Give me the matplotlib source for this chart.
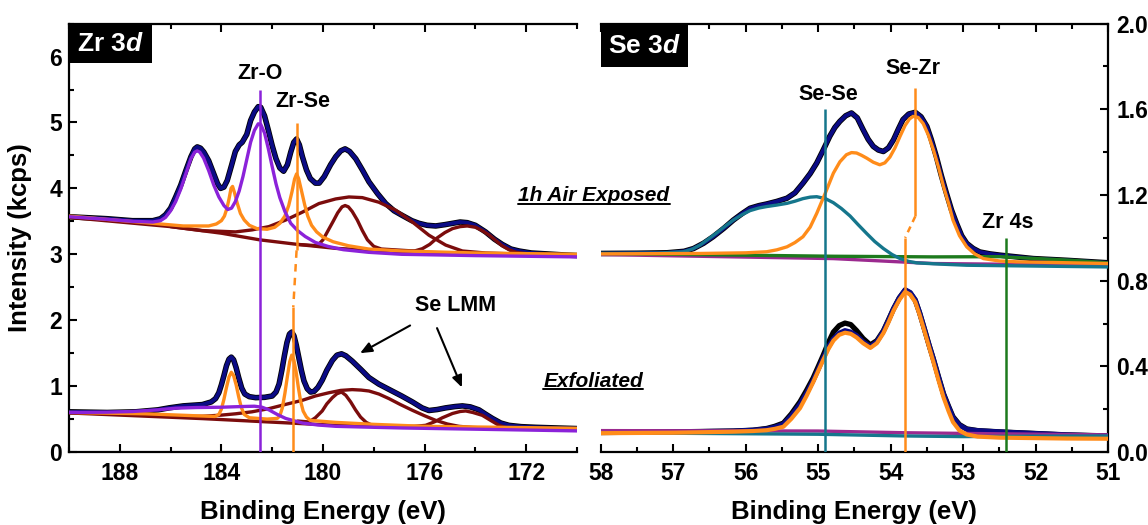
import matplotlib
matplotlib.use('Agg')
import matplotlib.pyplot as plt
from matplotlib.lines import Line2D
from matplotlib.patches import Rectangle
from matplotlib.ticker import MultipleLocator, FormatStrFormatter

plt.rcParams['font.family'] = ['Liberation Sans', 'DejaVu Sans']
plt.rcParams['font.weight'] = 'bold'
plt.rcParams['mathtext.fontset'] = 'custom'
plt.rcParams['mathtext.rm'] = 'Liberation Sans:bold'
plt.rcParams['mathtext.it'] = 'Liberation Sans:bold:italic'
plt.rcParams['mathtext.bf'] = 'Liberation Sans:bold'
plt.rcParams['lines.solid_joinstyle'] = 'round'
plt.rcParams['lines.solid_capstyle'] = 'round'

# ---------------- Zr 3d, 1h air exposed (left panel, upper trace) ----------------
zr_air_E = [190.00, 188.5, 187.5, 186.7, 186.4, 186.2, 186.0, 185.8, 185.6, 185.4,
            185.2, 185.05, 184.95, 184.82, 184.69, 184.5, 184.3, 184.15, 184.03, 183.9,
            183.77, 183.6, 183.45, 183.3, 183.18, 183.0, 182.85, 182.7, 182.55, 182.45,
            182.3, 182.15, 182.0, 181.85, 181.7, 181.55, 181.4, 181.27, 181.15, 181.04,
            180.93, 180.81, 180.65, 180.5, 180.3, 180.15, 179.95, 179.7, 179.5, 179.3,
            179.13, 178.95, 178.71, 178.45, 178.19, 177.85, 177.53, 177.2, 176.88, 176.5,
            176.22, 175.9, 175.56, 175.2, 174.9, 174.6, 174.32, 174.0, 173.6, 173.25,
            172.94, 172.6, 172.28, 171.8, 171.36, 170.5, 169.92]
zr_air_fit = [3.57, 3.54, 3.51, 3.51, 3.54, 3.60, 3.70, 3.87, 4.05, 4.27,
              4.48, 4.60, 4.63, 4.61, 4.55, 4.42, 4.22, 4.07, 4.00, 4.02,
              4.12, 4.35, 4.56, 4.66, 4.70, 4.82, 5.03, 5.16, 5.24, 5.23,
              5.10, 4.88, 4.65, 4.45, 4.31, 4.26, 4.36, 4.55, 4.70, 4.75,
              4.66, 4.48, 4.28, 4.15, 4.08, 4.08, 4.18, 4.36, 4.48, 4.57,
              4.60, 4.56, 4.45, 4.28, 4.10, 3.92, 3.77, 3.66, 3.59, 3.51,
              3.47, 3.44, 3.43, 3.45, 3.47, 3.49, 3.48, 3.44, 3.34, 3.23,
              3.15, 3.08, 3.05, 3.02, 3.01, 2.99, 2.98]

zr_air_zro_E = [190.00, 188.5, 187.5, 186.7, 186.4, 186.2, 186.0, 185.8, 185.6, 185.4,
                185.2, 185.05, 184.95, 184.85, 184.7, 184.5, 184.3, 184.1, 183.9, 183.75,
                183.6, 183.45, 183.3, 183.15, 183.0, 182.85, 182.7, 182.55, 182.45, 182.3,
                182.15, 182.0, 181.85, 181.7, 181.5, 181.27, 181.0, 180.7, 180.3, 179.8,
                179.2, 178.2, 176.9, 174.0, 169.92]
zr_air_zro = [3.57, 3.53, 3.50, 3.49, 3.51, 3.56, 3.66, 3.80, 3.99, 4.22,
              4.45, 4.55, 4.57, 4.55, 4.46, 4.27, 4.05, 3.87, 3.74, 3.68,
              3.70, 3.80, 3.96, 4.18, 4.44, 4.70, 4.88, 4.98, 4.97, 4.84,
              4.60, 4.33, 4.07, 3.86, 3.65, 3.47, 3.36, 3.27, 3.18, 3.12,
              3.07, 3.03, 3.00, 2.98, 2.96]

zr_air_zrse_E = [190.0, 188.5, 187.0, 185.5, 184.5, 184.2, 184.0, 183.88, 183.78, 183.7,
                 183.62, 183.56, 183.48, 183.38, 183.25, 183.1, 182.9, 182.6, 182.2, 181.9,
                 181.7, 181.5, 181.35, 181.22, 181.12, 181.04, 180.96, 180.85, 180.72, 180.6,
                 180.45, 180.25, 180.0, 179.6, 179.0, 178.2, 176.9, 174.0, 169.92]
zr_air_zrse = [3.58, 3.53, 3.48, 3.43, 3.43, 3.46, 3.51, 3.58, 3.70, 3.84,
               4.00, 4.03, 3.93, 3.78, 3.62, 3.52, 3.44, 3.39, 3.38, 3.41,
               3.47, 3.58, 3.74, 3.95, 4.14, 4.22, 4.15, 3.97, 3.75, 3.58,
               3.44, 3.34, 3.26, 3.19, 3.13, 3.08, 3.05, 3.02, 3.00]

zr_air_bg_E = [190.0, 188.0, 186.0, 184.0, 182.5, 181.0, 179.5, 177.0, 174.0, 170.0]
zr_air_bg = [3.56, 3.49, 3.42, 3.32, 3.22, 3.15, 3.09, 3.04, 3.01, 2.99]

zr_air_lmm_broad_E = [186.0, 184.75, 183.44, 182.8, 182.13, 181.47, 180.81, 180.16, 179.50, 178.98,
                      178.45, 177.80, 177.14, 176.48, 175.83, 175.17, 174.51, 173.60, 172.0, 170.0]
zr_air_lmm_broad = [3.42, 3.36, 3.34, 3.37, 3.42, 3.52, 3.64, 3.77, 3.84, 3.87,
                    3.86, 3.79, 3.67, 3.49, 3.29, 3.14, 3.05, 3.02, 3.00, 2.99]

zr_air_lmm1_E = [181.0, 180.22, 180.0, 179.8, 179.6, 179.42, 179.25, 179.13, 179.0, 178.85,
                 178.65, 178.45, 178.25, 178.0, 177.7, 176.0]
zr_air_lmm1 = [3.15, 3.13, 3.22, 3.36, 3.50, 3.63, 3.72, 3.74, 3.72, 3.65,
               3.52, 3.36, 3.22, 3.12, 3.08, 3.04]

zr_air_lmm2_E = [177.0, 176.4, 176.09, 175.8, 175.5, 175.2, 174.9, 174.6, 174.32, 174.0,
                 173.73, 173.45, 173.2, 172.95, 172.68, 172.4, 172.0, 170.0]
zr_air_lmm2 = [3.04, 3.05, 3.085, 3.15, 3.25, 3.33, 3.39, 3.42, 3.43, 3.41,
               3.36, 3.29, 3.21, 3.13, 3.07, 3.03, 3.01, 2.99]

# ---------------- Zr 3d, exfoliated (left panel, lower trace) ----------------
zr_exf_E = [190.00, 188.5, 187.38, 186.5, 186.06, 185.5, 184.75, 184.4, 184.23, 184.1,
            184.0, 183.9, 183.8, 183.7, 183.61, 183.52, 183.42, 183.32, 183.2, 183.08,
            182.9, 182.65, 182.3, 182.0, 181.85, 181.73, 181.62, 181.52, 181.42, 181.32,
            181.23, 181.14, 181.05, 180.95, 180.85, 180.75, 180.62, 180.49, 180.35, 180.2,
            180.03, 179.85, 179.63, 179.45, 179.27, 179.1, 178.85, 178.5, 178.19, 177.8,
            177.4, 176.9, 176.48, 176.1, 175.83, 175.5, 175.17, 174.8, 174.51, 174.2,
            173.86, 173.6, 173.33, 173.0, 172.68, 172.2, 171.63, 170.8, 169.92]
zr_exf_fit = [0.61, 0.60, 0.61, 0.64, 0.67, 0.70, 0.72, 0.76, 0.81, 0.90,
              1.02, 1.16, 1.31, 1.41, 1.44, 1.40, 1.28, 1.13, 0.97, 0.88,
              0.84, 0.825, 0.83, 0.85, 0.91, 1.03, 1.24, 1.46, 1.66, 1.79,
              1.82, 1.76, 1.62, 1.43, 1.24, 1.08, 0.96, 0.91, 0.92, 0.98,
              1.09, 1.24, 1.39, 1.47, 1.49, 1.46, 1.38, 1.25, 1.13, 1.03,
              0.95, 0.85, 0.76, 0.67, 0.63, 0.645, 0.67, 0.69, 0.70, 0.685,
              0.64, 0.575, 0.51, 0.44, 0.405, 0.385, 0.375, 0.365, 0.355]

zr_exf_zrse_E = [190.0, 187.0, 185.0, 184.25, 184.1, 184.0, 183.9, 183.8, 183.7, 183.61,
                 183.52, 183.42, 183.32, 183.22, 183.1, 182.9, 182.2, 181.8, 181.7, 181.6,
                 181.5, 181.4, 181.31, 181.23, 181.15, 181.06, 180.97, 180.88, 180.78, 180.65,
                 180.5, 179.5, 178.0, 176.0, 172.0, 169.92]
zr_exf_zrse = [0.60, 0.58, 0.55, 0.54, 0.57, 0.65, 0.80, 0.98, 1.14, 1.21,
               1.16, 1.02, 0.84, 0.68, 0.57, 0.52, 0.50, 0.51, 0.55, 0.67,
               0.89, 1.15, 1.37, 1.47, 1.40, 1.22, 0.98, 0.77, 0.62, 0.53,
               0.48, 0.45, 0.42, 0.39, 0.37, 0.36]

zr_exf_zro_E = [190.0, 188.5, 187.5, 186.5, 185.8, 185.0, 184.0, 183.2, 182.7, 182.4,
                182.13, 181.8, 181.47, 181.1, 180.81, 180.2, 179.5, 178.0, 176.88, 173.0, 169.92]
zr_exf_zro = [0.60, 0.605, 0.615, 0.64, 0.665, 0.675, 0.68, 0.69, 0.695, 0.68,
              0.64, 0.57, 0.51, 0.47, 0.44, 0.41, 0.39, 0.375, 0.365, 0.34, 0.32]

zr_exf_bg_E = [190.0, 184.75, 182.13, 179.50, 176.88, 169.92]
zr_exf_bg = [0.593, 0.507, 0.456, 0.405, 0.38, 0.34]

zr_exf_lmm_broad_E = [186.0, 185.3, 184.75, 184.0, 183.44, 182.8, 182.13, 181.5, 180.81, 180.3,
                      179.76, 179.3, 178.85, 178.5, 178.19, 177.8, 177.40, 176.95, 176.48, 176.0,
                      175.56, 175.1, 174.65, 174.1, 173.60, 172.0, 169.92]
zr_exf_lmm_broad = [0.55, 0.54, 0.542, 0.56, 0.58, 0.61, 0.658, 0.72, 0.785, 0.85,
                    0.90, 0.935, 0.947, 0.94, 0.926, 0.88, 0.81, 0.72, 0.633, 0.55,
                    0.48, 0.425, 0.39, 0.372, 0.365, 0.35, 0.34]

zr_exf_lmm1_E = [181.0, 180.55, 180.3, 180.03, 179.85, 179.63, 179.45, 179.27, 179.1, 178.91,
                 178.72, 178.52, 178.3, 178.12, 177.5]
zr_exf_lmm1 = [0.47, 0.456, 0.52, 0.623, 0.73, 0.825, 0.885, 0.91, 0.86, 0.76,
               0.64, 0.53, 0.45, 0.415, 0.395]

zr_exf_lmm2_E = [177.0, 176.4, 175.96, 175.6, 175.30, 174.9, 174.6, 174.38, 174.1, 173.73,
                 173.4, 173.07, 172.75, 172.55, 171.5]
zr_exf_lmm2 = [0.385, 0.39, 0.405, 0.46, 0.52, 0.585, 0.615, 0.623, 0.60, 0.557,
               0.48, 0.405, 0.365, 0.355, 0.35]

# ---------------- Se 3d, 1h air exposed (right panel, upper trace) ----------------
se_air_E = [58.01, 57.5, 57.09, 56.85, 56.72, 56.58, 56.45, 56.3, 56.17, 56.05,
            55.94, 55.82, 55.71, 55.57, 55.43, 55.32, 55.21, 55.11, 55.02, 54.93,
            54.84, 54.77, 54.70, 54.62, 54.54, 54.46, 54.38, 54.31, 54.24, 54.17,
            54.10, 54.03, 53.96, 53.89, 53.83, 53.75, 53.66, 53.58, 53.50, 53.44,
            53.37, 53.30, 53.23, 53.16, 53.09, 53.02, 52.95, 52.86, 52.77, 52.63,
            52.49, 52.03, 51.57, 50.98]
se_air_fit = [0.927, 0.928, 0.930, 0.937, 0.950, 0.975, 1.005, 1.045, 1.083, 1.113,
              1.138, 1.150, 1.158, 1.170, 1.185, 1.21, 1.255, 1.30, 1.349, 1.41,
              1.474, 1.515, 1.544, 1.57, 1.583, 1.56, 1.505, 1.46, 1.427, 1.41,
              1.403, 1.42, 1.458, 1.51, 1.552, 1.578, 1.586, 1.565, 1.520, 1.46,
              1.380, 1.29, 1.208, 1.13, 1.067, 1.01, 0.974, 0.95, 0.934, 0.925,
              0.919, 0.903, 0.895, 0.883]

se_air_sezr_E = [58.01, 56.63, 56.0, 55.71, 55.57, 55.43, 55.32, 55.21, 55.11, 55.02,
                 54.9, 54.79, 54.70, 54.61, 54.54, 54.47, 54.40, 54.33, 54.24, 54.15,
                 54.08, 54.01, 53.94, 53.87, 53.80, 53.74, 53.69, 53.62, 53.55, 53.48,
                 53.41, 53.34, 53.27, 53.20, 53.14, 53.05, 52.95, 52.84, 52.72, 52.5,
                 52.26, 50.98]
se_air_sezr = [0.925, 0.927, 0.930, 0.935, 0.944, 0.958, 0.978, 1.005, 1.05, 1.114,
               1.21, 1.302, 1.355, 1.388, 1.398, 1.396, 1.385, 1.372, 1.353, 1.341,
               1.35, 1.377, 1.42, 1.474, 1.525, 1.555, 1.567, 1.562, 1.533, 1.48,
               1.411, 1.33, 1.239, 1.16, 1.083, 1.01, 0.958, 0.925, 0.903, 0.892,
               0.888, 0.880]

se_air_sese_E = [58.01, 57.2, 56.86, 56.74, 56.63, 56.52, 56.40, 56.28, 56.17, 56.05,
                 55.94, 55.82, 55.71, 55.57, 55.43, 55.32, 55.21, 55.11, 55.02, 54.9,
                 54.79, 54.68, 54.56, 54.45, 54.33, 54.22, 54.10, 53.98, 53.87, 53.75,
                 53.64, 53.3, 52.95, 50.98]
se_air_sese = [0.927, 0.929, 0.935, 0.947, 0.966, 0.993, 1.023, 1.055, 1.083, 1.108,
               1.127, 1.139, 1.146, 1.153, 1.161, 1.171, 1.183, 1.19, 1.192, 1.183,
               1.164, 1.137, 1.102, 1.062, 1.020, 0.983, 0.950, 0.922, 0.903, 0.89,
               0.883, 0.877, 0.872, 0.864]

se_air_zr4s_E = [58.01, 54.79, 53.41, 52.49, 51.50, 50.98]
se_air_zr4s = [0.927, 0.914, 0.911, 0.912, 0.895, 0.883]

se_air_bg_E = [58.01, 54.79, 53.41, 50.98]
se_air_bg = [0.922, 0.903, 0.880, 0.872]

# ---------------- Se 3d, exfoliated (right panel, lower trace) ----------------
se_exf_E = [58.01, 57.0, 56.17, 55.9, 55.71, 55.6, 55.48, 55.37, 55.25, 55.16,
            55.07, 55.0, 54.93, 54.86, 54.79, 54.71, 54.63, 54.55, 54.47, 54.38,
            54.28, 54.19, 54.10, 54.03, 53.96, 53.88, 53.80, 53.73, 53.66, 53.6,
            53.53, 53.47, 53.41, 53.34, 53.27, 53.2, 53.14, 53.05, 52.95, 52.8,
            52.49, 52.03, 51.57, 50.98]
se_exf_fit = [0.091, 0.094, 0.098, 0.102, 0.108, 0.116, 0.130, 0.17, 0.224, 0.275,
              0.333, 0.385, 0.439, 0.49, 0.528, 0.555, 0.567, 0.56, 0.544, 0.515,
              0.492, 0.515, 0.564, 0.615, 0.669, 0.72, 0.758, 0.745, 0.711, 0.65,
              0.570, 0.50, 0.434, 0.35, 0.270, 0.21, 0.161, 0.125, 0.106, 0.10,
              0.094, 0.087, 0.080, 0.075]
se_exf_data = [0.091, 0.094, 0.098, 0.102, 0.110, 0.120, 0.135, 0.178, 0.235, 0.288,
               0.345, 0.398, 0.452, 0.51, 0.56, 0.59, 0.602, 0.595, 0.567, 0.53,
               0.50, 0.52, 0.566, 0.617, 0.669, 0.72, 0.755, 0.742, 0.708, 0.65,
               0.570, 0.50, 0.434, 0.352, 0.272, 0.213, 0.165, 0.128, 0.108, 0.10,
               0.094, 0.087, 0.080, 0.075]
se_exf_sezr = [0.088, 0.090, 0.095, 0.098, 0.102, 0.108, 0.118, 0.155, 0.205, 0.262,
               0.325, 0.378, 0.430, 0.48, 0.520, 0.547, 0.557, 0.552, 0.535, 0.508,
               0.486, 0.508, 0.555, 0.605, 0.660, 0.71, 0.748, 0.735, 0.700, 0.64,
               0.560, 0.49, 0.420, 0.335, 0.255, 0.19, 0.140, 0.10, 0.082, 0.072,
               0.067, 0.065, 0.063, 0.062]

se_exf_sese_E = [58.01, 55.0, 53.8, 53.0, 52.0, 50.98]
se_exf_sese = [0.090, 0.083, 0.075, 0.072, 0.074, 0.075]

se_exf_bg_E = [58.01, 55.0, 53.8, 52.5, 50.98]
se_exf_bg = [0.100, 0.098, 0.090, 0.085, 0.080]

# ---------------- peak position markers ----------------
zr_o_pos, zr_o_span = 182.49, (0.0, 5.49)
zr_se_top_pos, zr_se_top_span = 181.04, (3.06, 4.99)
zr_se_low_pos, zr_se_low_span = 181.17, (0.0, 2.20)
se_se_pos, se_se_span = 54.90, (0.0, 1.60)
se_zr_top_pos, se_zr_top_span = 53.66, (1.10, 1.70)
se_zr_low_pos, se_zr_low_span = 53.80, (0.0, 1.00)
zr4s_pos, zr4s_span = 52.41, (0.0, 1.00)

NAVY = '#0b0b85'
PURPLE = '#8b22d9'
ORANGE = '#ff8c1a'
MAROON = '#7b0c0c'
TEAL = '#15768c'
GREEN = '#1d7a1d'
MAGENTA = '#9b2a8f'

fig = plt.figure(figsize=(11.48, 5.25), dpi=100)
ax1 = fig.add_axes([0.0601, 0.139, 0.4425, 0.816])
ax2 = fig.add_axes([0.5233, 0.139, 0.4419, 0.816])

LW_FIT = 2.8
LW_C = 2.4

# left panel
for E, y in [(zr_air_E, zr_air_fit), (zr_exf_E, zr_exf_fit)]:
    ax1.plot(E, y, color='black', lw=LW_FIT + 1.2, zorder=2)
    ax1.plot(E, y, color=NAVY, lw=LW_FIT, zorder=3)
for E, y, c in [(zr_air_bg_E, zr_air_bg, MAROON), (zr_air_lmm_broad_E, zr_air_lmm_broad, MAROON),
                (zr_air_lmm1_E, zr_air_lmm1, MAROON), (zr_air_lmm2_E, zr_air_lmm2, MAROON),
                (zr_air_zrse_E, zr_air_zrse, ORANGE), (zr_air_zro_E, zr_air_zro, PURPLE),
                (zr_exf_bg_E, zr_exf_bg, MAROON), (zr_exf_lmm_broad_E, zr_exf_lmm_broad, MAROON),
                (zr_exf_lmm1_E, zr_exf_lmm1, MAROON), (zr_exf_lmm2_E, zr_exf_lmm2, MAROON),
                (zr_exf_zrse_E, zr_exf_zrse, ORANGE), (zr_exf_zro_E, zr_exf_zro, PURPLE)]:
    ax1.plot(E, y, color=c, lw=LW_C, zorder=4)

ax1.vlines(zr_o_pos, *zr_o_span, color=PURPLE, lw=1.8, zorder=5)
ax1.vlines(zr_se_top_pos, *zr_se_top_span, color=ORANGE, lw=1.8, zorder=5)
ax1.vlines(zr_se_low_pos, *zr_se_low_span, color=ORANGE, lw=1.8, zorder=5)
ax1.plot([zr_se_top_pos, zr_se_low_pos], [zr_se_top_span[0], zr_se_low_span[1]],
         color=ORANGE, lw=1.8, ls=(0, (3, 2.5)), zorder=5)

# right panel
ax2.plot(se_exf_E, se_exf_data, color='black', lw=LW_FIT + 1.0, zorder=2)
ax2.plot(se_air_E, se_air_fit, color='black', lw=LW_FIT + 1.2, zorder=2)
ax2.plot(se_air_E, se_air_fit, color=NAVY, lw=LW_FIT, zorder=3)
ax2.plot(se_exf_E, se_exf_fit, color=NAVY, lw=LW_FIT + 0.8, zorder=3)
for E, y, c in [(se_air_bg_E, se_air_bg, MAGENTA), (se_air_zr4s_E, se_air_zr4s, GREEN),
                (se_air_sese_E, se_air_sese, TEAL), (se_air_sezr_E, se_air_sezr, ORANGE),
                (se_exf_bg_E, se_exf_bg, MAGENTA), (se_exf_sese_E, se_exf_sese, TEAL)]:
    ax2.plot(E, y, color=c, lw=LW_C, zorder=4)
ax2.plot(se_exf_E, se_exf_sezr, color=ORANGE, lw=3.0, zorder=4)

ax2.vlines(se_se_pos, *se_se_span, color=TEAL, lw=1.8, zorder=5)
ax2.vlines(se_zr_top_pos, *se_zr_top_span, color=ORANGE, lw=1.8, zorder=5)
ax2.vlines(se_zr_low_pos, *se_zr_low_span, color=ORANGE, lw=1.8, zorder=5)
ax2.plot([se_zr_top_pos, se_zr_low_pos], [se_zr_top_span[0], se_zr_low_span[1]],
         color=ORANGE, lw=1.8, ls=(0, (2.5, 2)), zorder=5)
ax2.vlines(zr4s_pos, *zr4s_span, color=GREEN, lw=1.8, zorder=5)

# axes styling
for ax in (ax1, ax2):
    for s in ax.spines.values():
        s.set_linewidth(1.6)
    ax.tick_params(which='both', direction='in', width=1.5, top=True, labelsize=16.5)
    ax.tick_params(which='major', length=6)
    ax.tick_params(which='minor', length=3.5)
    ax.tick_params(axis='x', pad=7)
    ax.set_xlabel('Binding Energy (eV)', fontsize=18.5, fontweight='bold')

ax1.set_xlim(190, 170)
ax1.set_ylim(0, 6.5)
ax1.set_xticks([188, 184, 180, 176, 172])
ax1.xaxis.set_minor_locator(MultipleLocator(2))
ax1.yaxis.set_major_locator(MultipleLocator(1))
ax1.yaxis.set_minor_locator(MultipleLocator(0.5))
ax1.spines['right'].set_visible(False)
ax1.tick_params(axis='y', which='both', left=True, right=False, pad=5)
ax1.set_ylabel('Intensity (kcps)', fontsize=18.5, fontweight='bold')
ax1.yaxis.set_label_coords(-0.072, 0.5)

ax2.set_xlim(58, 51)
ax2.set_ylim(0, 2.0)
ax2.xaxis.set_major_locator(MultipleLocator(1))
ax2.xaxis.set_minor_locator(MultipleLocator(0.5))
ax2.yaxis.set_major_locator(MultipleLocator(0.4))
ax2.yaxis.set_minor_locator(MultipleLocator(0.2))
ax2.yaxis.set_major_formatter(FormatStrFormatter('%.1f'))
ax2.spines['left'].set_visible(False)
ax2.yaxis.tick_right()
ax2.tick_params(axis='y', which='both', left=False, right=True, labelleft=False, labelright=True, pad=6)

for ax in (ax1, ax2):
    ax.xaxis.set_label_coords(0.5, -0.112)

# panel titles in black boxes
ax1.add_patch(Rectangle((0.0, 0.908), 0.163, 0.092, transform=ax1.transAxes,
                        facecolor='black', edgecolor='none', zorder=6, clip_on=False))
ax1.text(0.0815, 0.952, 'Zr 3$d$', transform=ax1.transAxes, color='white', fontsize=19,
         fontweight='bold', ha='center', va='center', zorder=7)
ax2.add_patch(Rectangle((0.0, 0.898), 0.172, 0.102, transform=ax2.transAxes,
                        facecolor='black', edgecolor='none', zorder=6, clip_on=False))
ax2.text(0.086, 0.947, 'Se 3$d$', transform=ax2.transAxes, color='white', fontsize=19,
         fontweight='bold', ha='center', va='center', zorder=7)

# peak labels
lab = dict(fontsize=15.5, fontweight='bold', ha='center', va='center', zorder=7)
ax1.text(182.48, 5.75, 'Zr-O', **lab)
ax1.text(180.79, 5.32, 'Zr-Se', **lab)
ax1.text(174.8, 2.23, 'Se LMM', **lab)
arrow = dict(arrowstyle='-|>,head_length=0.7,head_width=0.3', color='black', lw=1.5,
             shrinkA=0, shrinkB=0)
ax1.annotate('', xy=(178.54, 1.50), xytext=(176.57, 1.92), arrowprops=arrow)
ax1.annotate('', xy=(174.53, 0.98), xytext=(175.51, 1.88), arrowprops=arrow)
ax2.text(54.86, 1.67, 'Se-Se', **lab)
ax2.text(53.69, 1.79, 'Se-Zr', **lab)
ax2.text(52.39, 1.07, 'Zr 4s', **lab)

# sample labels, underlined
W, H = 1148.0, 525.0
samples = [('1h Air Exposed', 0.5174, 0.6171), ('Exfoliated', 0.5166, 0.2629)]
texts = []
for s, x, y in samples:
    t = fig.text(x, y, s, ha='center', va='baseline', fontsize=15, fontweight='bold',
                 style='italic')
    texts.append((t, y))
fig.canvas.draw()
r = fig.canvas.get_renderer()
for t, y in texts:
    bb = t.get_window_extent(renderer=r)
    fig.add_artist(Line2D([bb.x0 / W, bb.x1 / W], [y - 2.5 / H, y - 2.5 / H],
                          transform=fig.transFigure, color='black', lw=1.4))

fig.savefig('out.png', dpi=100)
